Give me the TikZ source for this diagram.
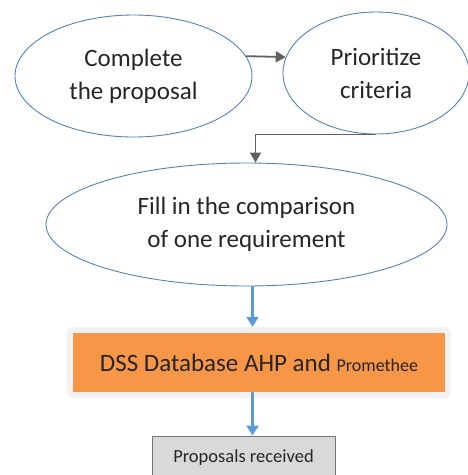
\documentclass[tikz,border=0pt]{standalone}
\usepackage{fontspec}
\setmainfont{Carlito}
\usetikzlibrary{arrows.meta,shapes.geometric}
\definecolor{ellblue}{RGB}{84,130,186}
\definecolor{arrgray}{RGB}{96,96,96}
\definecolor{arrblue}{RGB}{91,155,213}
\definecolor{dssorange}{RGB}{246,150,70}
\definecolor{boxgray}{RGB}{217,217,217}
\begin{document}
\begin{tikzpicture}[x=1pt,y=-1pt,
ell/.style={draw=ellblue,line width=.9pt,ellipse,inner sep=0pt,align=center,text=black!85,font=\fontsize{25}{33}\selectfont},
garr/.style={-{Triangle[length=10pt,width=11pt]},arrgray,line width=1.8pt},
barr/.style={-{Triangle[length=10pt,width=12pt]},arrblue,line width=2.3pt}]
\clip (0,0) rectangle (468,475);
\node[ell,minimum width=237pt,minimum height=122pt](cp) at (133.5,76){Complete\\the proposal};
\node[ell,minimum width=186pt,minimum height=122pt](pc) at (376,73){Prioritize\\criteria};
\node[ell,minimum width=401pt,minimum height=123pt](fc) at (246.5,224.5){Fill in the comparison\\of one requirement};
\node[fill=dssorange,minimum width=372pt,minimum height=59pt,text=black!85,font=\fontsize{25}{30}\selectfont,
  preaction={draw=black!5,line width=12pt,line join=round}](db) at (259,362.5){DSS Database AHP and {\fontsize{18}{20}\selectfont Promethee}};
\node[draw=black!55,fill=boxgray,line width=1pt,minimum width=183pt,minimum height=44pt,text=black!85,
  font=\fontsize{18.5}{20}\selectfont](pr) at (243.5,458){Proposals received};
\draw[garr](cp.10)--(pc.170);
\draw[garr](pc.south)-|([xshift=9pt]fc.north);
\draw[barr,shorten >=6pt]([xshift=6pt]fc.south)--([xshift=6pt]fc.south|-db.north);
\draw[barr]([xshift=6pt]fc.south|-db.south)--([xshift=6pt]fc.south|-pr.north);
\end{tikzpicture}
\end{document}
